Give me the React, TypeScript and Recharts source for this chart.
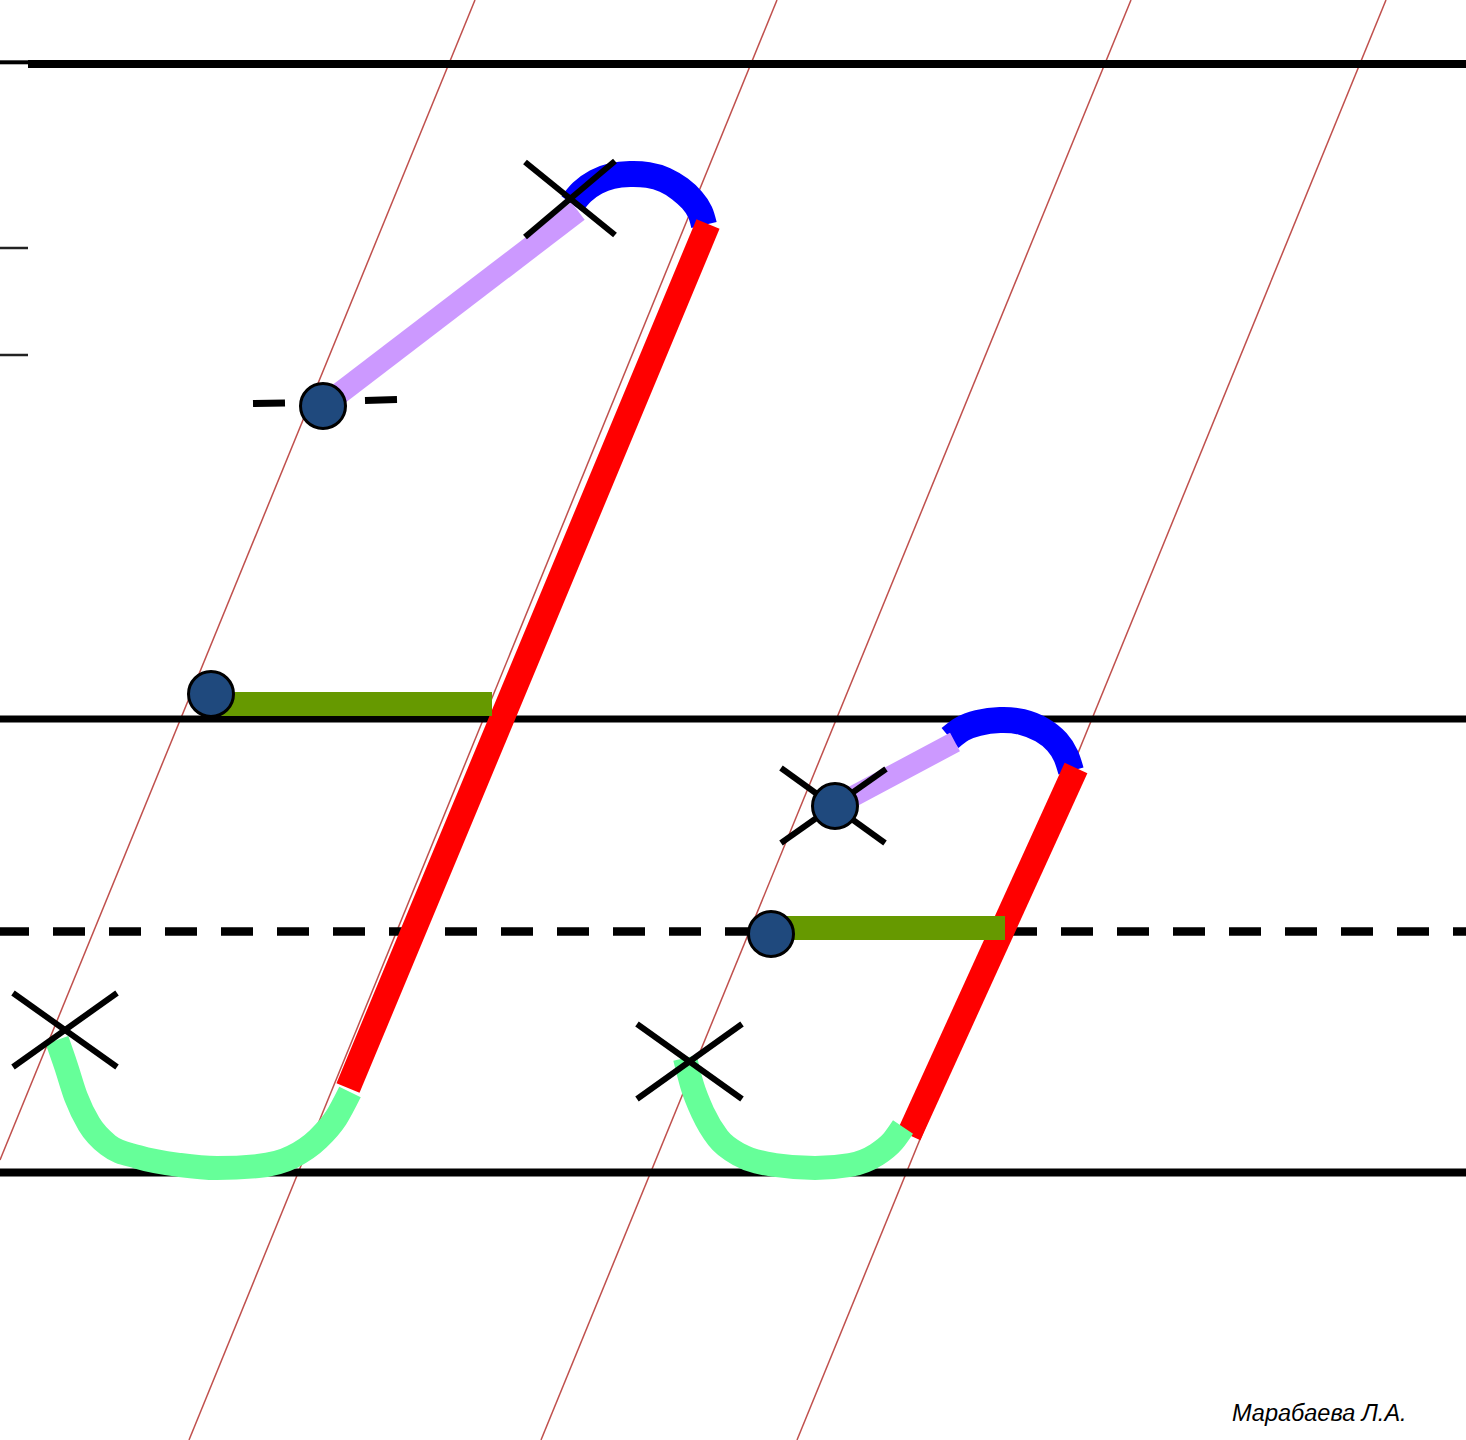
import { ComposedChart, Line, Scatter, XAxis, YAxis } from 'recharts';

type Pt = { x: number; y: number };

const W = 1466;
const H = 1440;

// copybook ruling (page coords, y grows downward)
const topRule: Pt[] = [{ x: 28, y: 64 }, { x: 1466, y: 64 }];
const topRuleStub: Pt[] = [{ x: 0, y: 62.3 }, { x: 28, y: 62.3 }];
const tick1: Pt[] = [{ x: 0, y: 248 }, { x: 28, y: 248 }];
const tick2: Pt[] = [{ x: 0, y: 355 }, { x: 28, y: 355 }];
const midRule: Pt[] = [{ x: 0, y: 719 }, { x: 1466, y: 719 }];
const dashRule: Pt[] = [{ x: -3, y: 931.5 }, { x: 1466, y: 931.5 }];
const baseRule: Pt[] = [{ x: 0, y: 1172.5 }, { x: 1466, y: 1172.5 }];

// slanted guide lines
const slantA: Pt[] = [{ x: 475, y: 0 }, { x: 0, y: 1160 }];
const slantB: Pt[] = [{ x: 777, y: 0 }, { x: 189, y: 1440 }];
const slantC: Pt[] = [{ x: 1131, y: 0 }, { x: 541, y: 1440 }];
const slantD: Pt[] = [{ x: 1386, y: 0 }, { x: 797, y: 1440 }];

// big letter
const arc1: Pt[] = [
  { x: 572, y: 204 }, { x: 582, y: 192 }, { x: 596, y: 182 }, { x: 612, y: 176 },
  { x: 630, y: 174 }, { x: 648, y: 175 }, { x: 665, y: 180 }, { x: 680, y: 189 },
  { x: 692, y: 200 }, { x: 700, y: 212 }, { x: 704, y: 225 },
];
const lift1: Pt[] = [{ x: 323, y: 406 }, { x: 578, y: 211 }];
const stem1: Pt[] = [{ x: 708, y: 224 }, { x: 348, y: 1088 }];
const bar1: Pt[] = [{ x: 211, y: 704 }, { x: 492, y: 704 }];
const hook1: Pt[] = [
  { x: 57, y: 1040 }, { x: 66, y: 1066 }, { x: 76, y: 1097 }, { x: 89, y: 1124 },
  { x: 108, y: 1145 }, { x: 138, y: 1157 }, { x: 180, y: 1165 }, { x: 217, y: 1168 },
  { x: 258, y: 1166 }, { x: 292, y: 1157 }, { x: 318, y: 1139 }, { x: 336, y: 1118 },
  { x: 350, y: 1092 },
];

// small letter
const arc2: Pt[] = [
  { x: 950, y: 738 }, { x: 962, y: 729 }, { x: 978, y: 723 }, { x: 1000, y: 720 },
  { x: 1022, y: 722 }, { x: 1042, y: 730 }, { x: 1057, y: 742 }, { x: 1066, y: 756 },
  { x: 1071, y: 771 },
];
const lift2: Pt[] = [{ x: 835, y: 806 }, { x: 955, y: 742 }];
const stem2: Pt[] = [{ x: 1076, y: 768 }, { x: 909, y: 1135 }];
const bar2: Pt[] = [{ x: 771, y: 928 }, { x: 1005, y: 928 }];
const hook2: Pt[] = [
  { x: 685, y: 1058 }, { x: 692, y: 1085 }, { x: 703, y: 1113 }, { x: 718, y: 1138 },
  { x: 740, y: 1155 }, { x: 775, y: 1165 }, { x: 815, y: 1168 }, { x: 850, y: 1165 },
  { x: 876, y: 1155 }, { x: 893, y: 1141 }, { x: 903, y: 1127 },
];

// crosses (two strokes each) and short dashes
const crossArms: Pt[][] = [
  [{ x: 525, y: 162 }, { x: 615, y: 235 }],
  [{ x: 525, y: 237 }, { x: 615, y: 161 }],
  [{ x: 13, y: 993 }, { x: 117, y: 1067 }],
  [{ x: 13, y: 1067 }, { x: 117, y: 993 }],
  [{ x: 637, y: 1024 }, { x: 742, y: 1099 }],
  [{ x: 637, y: 1099 }, { x: 742, y: 1024 }],
  [{ x: 781, y: 768 }, { x: 885, y: 843 }],
  [{ x: 781, y: 843 }, { x: 886, y: 769 }],
];
const shortDashes: Pt[][] = [
  [{ x: 253, y: 403.5 }, { x: 285, y: 403 }],
  [{ x: 365, y: 400.5 }, { x: 397, y: 399.5 }],
];

const startDots: Pt[] = [
  { x: 323, y: 406 }, { x: 211, y: 694 }, { x: 835, y: 806 }, { x: 771, y: 934 },
];

const series = [
  { id: 'slantA', data: slantA, color: '#c0504d', w: 1.5 },
  { id: 'slantB', data: slantB, color: '#c0504d', w: 1.5 },
  { id: 'slantC', data: slantC, color: '#c0504d', w: 1.5 },
  { id: 'slantD', data: slantD, color: '#c0504d', w: 1.5 },
  { id: 'topRule', data: topRule, color: '#000', w: 8 },
  { id: 'topStub', data: topRuleStub, color: '#000', w: 4 },
  { id: 'tick1', data: tick1, color: '#222', w: 2.5 },
  { id: 'tick2', data: tick2, color: '#222', w: 2.5 },
  { id: 'midRule', data: midRule, color: '#000', w: 7 },
  { id: 'dashRule', data: dashRule, color: '#000', w: 8.5, dash: '32 24' },
  { id: 'baseRule', data: baseRule, color: '#000', w: 8 },
  { id: 'arc1', data: arc1, color: '#0000ff', w: 26, curve: 'natural' },
  { id: 'arc2', data: arc2, color: '#0000ff', w: 26, curve: 'natural' },
  { id: 'lift1', data: lift1, color: '#cc99ff', w: 22 },
  { id: 'lift2', data: lift2, color: '#cc99ff', w: 21 },
  { id: 'stem1', data: stem1, color: '#ff0000', w: 25 },
  { id: 'stem2', data: stem2, color: '#ff0000', w: 25 },
  { id: 'bar1', data: bar1, color: '#669900', w: 24 },
  { id: 'bar2', data: bar2, color: '#669900', w: 24 },
  { id: 'hook1', data: hook1, color: '#66ff99', w: 24, curve: 'monotone' },
  { id: 'hook2', data: hook2, color: '#66ff99', w: 24, curve: 'monotone' },
  ...crossArms.map((d, i) => ({ id: 'cross' + i, data: d, color: '#000', w: 6 })),
  ...shortDashes.map((d, i) => ({ id: 'sd' + i, data: d, color: '#000', w: 7 })),
];

const Dot = (p: any) => (
  <circle cx={p.cx} cy={p.cy} r={22.5} fill="#1f497d" stroke="#000" strokeWidth={3} />
);

export default function App() {
  return (
    <div style={{ position: 'absolute', left: 0, top: 0, width: W, height: H, background: '#fff' }}>
      <ComposedChart width={W} height={H} margin={{ top: 0, right: 0, bottom: 0, left: 0 }}>
        <XAxis type="number" dataKey="x" domain={[0, W]} hide allowDataOverflow />
        <YAxis type="number" dataKey="y" domain={[0, H]} reversed hide allowDataOverflow />
        {series.map((s: any) => (
          <Line
            key={s.id}
            data={s.data}
            dataKey="y"
            type={s.curve || 'linear'}
            stroke={s.color}
            strokeWidth={s.w}
            strokeDasharray={s.dash}
            dot={false}
            activeDot={false}
            isAnimationActive={false}
          />
        ))}
        <Scatter data={startDots} dataKey="y" shape={Dot} isAnimationActive={false} />
      </ComposedChart>
      <div
        style={{
          position: 'absolute',
          left: 1232,
          top: 1402,
          fontFamily: '"Liberation Sans", Arial, sans-serif',
          fontStyle: 'italic',
          fontSize: 23.5,
          lineHeight: '23px',
          color: '#000',
          whiteSpace: 'nowrap',
        }}
      >
        Марабаева Л.А.
      </div>
    </div>
  );
}
